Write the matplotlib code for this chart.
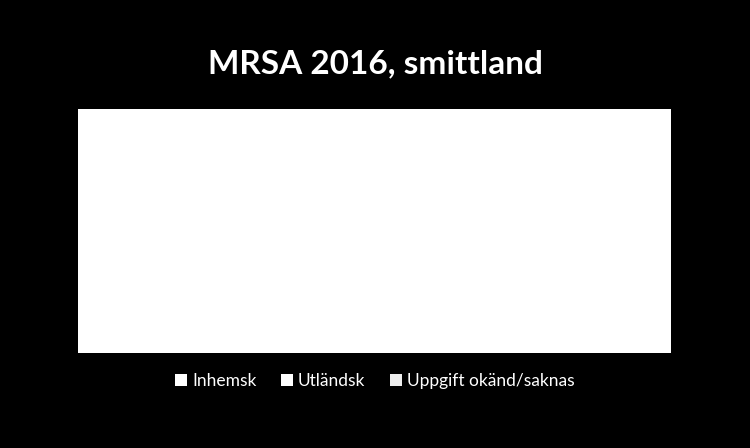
import numpy as np
import matplotlib
matplotlib.use('Agg')
import matplotlib.pyplot as plt

# MRSA 2016 cases by country of infection (values estimated, bars are white on white)
categories = ['Inhemsk', 'Utländsk', 'Uppgift okänd/saknas']
values = [1450, 1650, 620]
bar_colors = ['white', 'white', 'white']
legend_colors = ['white', 'white', '#eeeeee']

plt.rcParams['font.family'] = ['Lato', 'DejaVu Sans']

fig = plt.figure(figsize=(7.5, 4.48), dpi=100, facecolor='black')
ax = fig.add_axes([0.104, 0.212, 0.791, 0.545])
ax.set_facecolor('white')

left = 0
for name, v, c in zip(categories, values, bar_colors):
    ax.barh([0], [v], left=left, color=c, label=name, height=0.6)
    left += v

ax.set_xlim(0, left)
ax.set_ylim(-0.5, 0.5)
ax.set_xticks([])
ax.set_yticks([])
for s in ax.spines.values():
    s.set_visible(False)

fig.text(0.5, 0.858, 'MRSA 2016, smittland', color='white', fontsize=24,
         fontweight='bold', ha='center', va='center')

leg = ax.legend(loc='center', bbox_to_anchor=(0.5, -0.115), ncol=3, frameon=False,
                fontsize=12.5, handlelength=0.7, handleheight=0.7, handletextpad=0.3,
                columnspacing=1.4, labelcolor='white')
for h, c in zip(leg.legend_handles, legend_colors):
    h.set_facecolor(c)

fig.savefig('out.png', dpi=100, facecolor='black')
